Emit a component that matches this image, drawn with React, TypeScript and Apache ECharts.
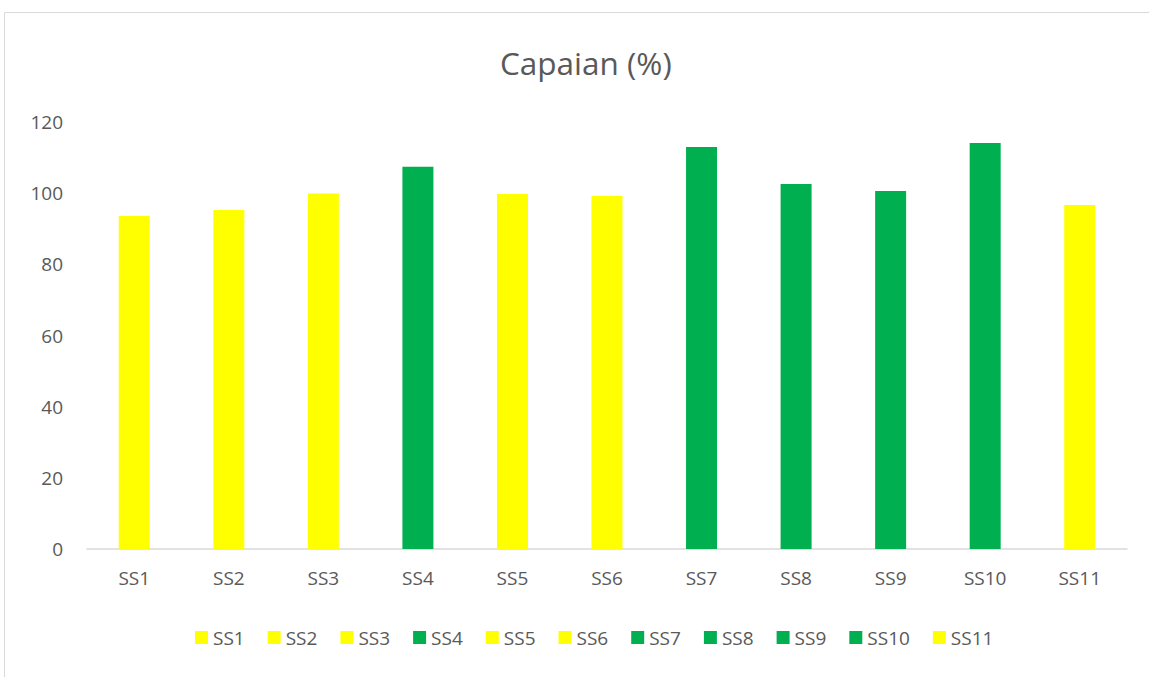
import React, { useEffect, useRef } from "react";
import * as echarts from "echarts";

const categories = ["SS1", "SS2", "SS3", "SS4", "SS5", "SS6", "SS7", "SS8", "SS9", "SS10", "SS11"];
const values = [93.6, 95.3, 99.9, 107.4, 99.8, 99.2, 113.0, 102.6, 100.6, 114.1, 96.7];
const colors = ["#FFFF00", "#FFFF00", "#FFFF00", "#00B050", "#FFFF00", "#FFFF00", "#00B050", "#00B050", "#00B050", "#00B050", "#FFFF00"];
const yTicks = { min: 0, max: 120, interval: 20 };

const FONT = "'Open Sans', Lato, sans-serif";
const TEXT = "#595959";

export default function App() {
  const ref = useRef<HTMLDivElement>(null);
  useEffect(() => {
    if (!ref.current) return;
    const chart = echarts.init(ref.current, null, { renderer: "svg" });
    const series = categories.map((name, i) => ({
      name,
      type: "bar",
      data: categories.map((_, j) => (j === i ? values[i] : null)),
      barWidth: 31,
      barGap: "-100%",
      itemStyle: { color: colors[i] },
    }));
    chart.setOption({
      animation: false,
      backgroundColor: "#fff",
      title: {
        text: "Capaian (%)",
        left: 495,
        top: 41,
        textStyle: { fontFamily: FONT, fontSize: 31.5, fontWeight: "normal", color: TEXT },
      },
      graphic: [
        {
          type: "rect",
          shape: { x: 4.5, y: 12.5, width: 1200, height: 800 },
          style: { fill: "none", stroke: "#d9d9d9", lineWidth: 1 },
          silent: true,
        },
      ],
      legend: {
        data: categories,
        top: 623,
        left: 190,
        itemWidth: 13,
        itemHeight: 13,
        itemGap: 23,
        icon: "rect",
        textStyle: { fontFamily: FONT, fontSize: 19, color: TEXT },
      },
      grid: { left: 87, right: 22, top: 122, bottom: 128, containLabel: false },
      xAxis: {
        type: "category",
        data: categories,
        axisLine: { lineStyle: { color: "#d9d9d9", width: 1.5 } },
        axisTick: { show: false },
        axisLabel: { fontFamily: FONT, fontSize: 19, color: TEXT, margin: 19 },
      },
      yAxis: {
        type: "value",
        min: yTicks.min,
        max: yTicks.max,
        interval: yTicks.interval,
        splitLine: { show: false },
        axisLine: { show: false },
        axisTick: { show: false },
        axisLabel: { fontFamily: FONT, fontSize: 19, color: TEXT, margin: 24 },
      },
      series,
    });
    return () => chart.dispose();
  }, []);
  return <div ref={ref} style={{ width: 1149, height: 677, position: "absolute", left: 0, top: 0 }} />;
}
